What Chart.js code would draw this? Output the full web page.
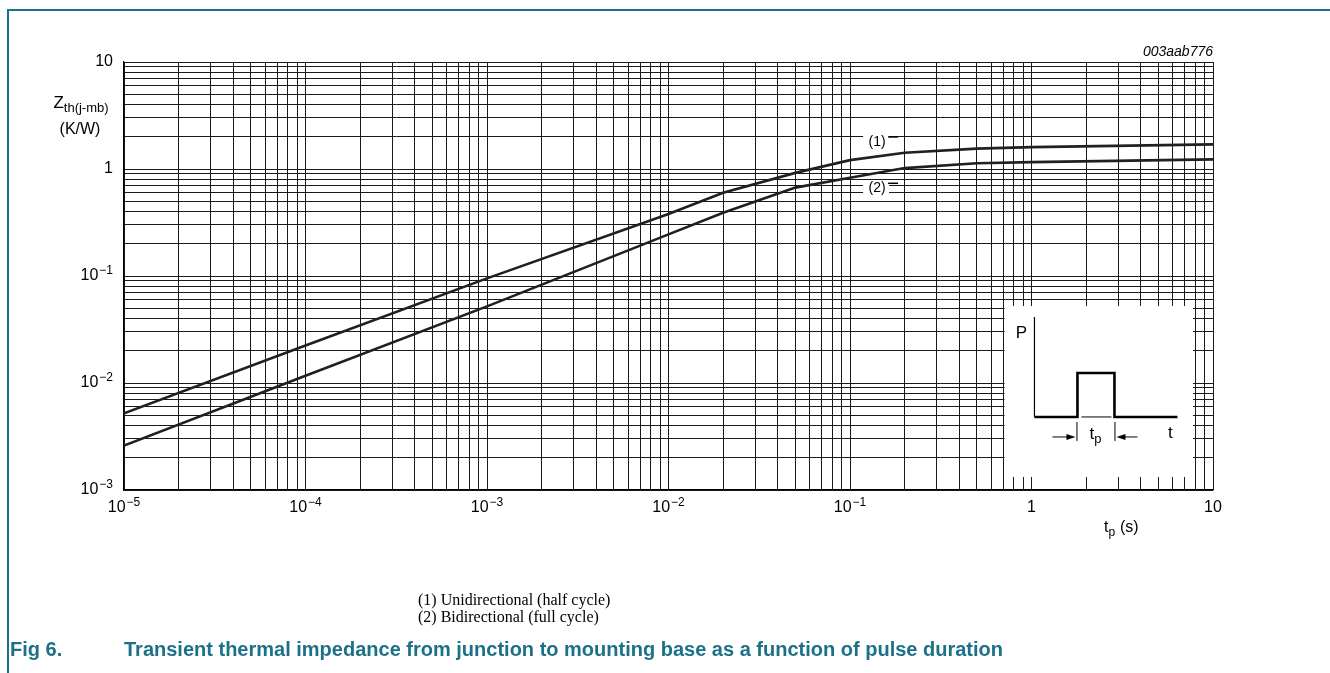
<!DOCTYPE html>
<html>
<head>
<meta charset="utf-8">
<script src="https://cdn.jsdelivr.net/npm/chart.js@4.4.0/dist/chart.umd.min.js"></script>
<style>
  html, body { margin: 0; padding: 0; background: #fff; }
  #page { position: relative; width: 1330px; height: 673px; overflow: hidden; }
  #frame { position: absolute; left: 7px; top: 9px; right: -4px; bottom: -4px;
           border-left: 2px solid #1c7188; border-top: 2px solid #1c7188; }
  canvas { position: absolute; left: 0; top: 0; }
  .note { position: absolute; left: 418px; font: 16px "Liberation Serif", "DejaVu Serif", serif; color: #000; }
  .fig { position: absolute; top: 638px; font: bold 20px "Liberation Sans", Arial, sans-serif; color: #1c7188; white-space: nowrap; }
</style>
</head>
<body>
<div id="page">
  <div id="frame"></div>
  <canvas id="zthChart" width="1330" height="673"></canvas>
  <div class="note" style="top:591px">(1) Unidirectional (half cycle)</div>
  <div class="note" style="top:608px">(2) Bidirectional (full cycle)</div>
  <div class="fig" style="left:10px">Fig 6.</div>
  <div class="fig" style="left:124px">Transient thermal impedance from junction to mounting base as a function of pulse duration</div>
</div>
<script>
// pulse duration tp (s) and Zth(j-mb) (K/W)
const pulseDuration = [1e-5, 1e-4, 1e-3, 1e-2, 2e-2, 5e-2, 0.1, 0.2, 0.5, 1, 10];
const zthUnidirectional = [0.0052, 0.0224, 0.095, 0.38, 0.6, 0.92, 1.21, 1.42, 1.55, 1.6, 1.7];
const zthBidirectional = [0.0026, 0.0117, 0.052, 0.245, 0.39, 0.67, 0.83, 1.02, 1.13, 1.16, 1.23];

// decades and their labels (base, exponent)
const xDecades = [1e-5, 1e-4, 1e-3, 1e-2, 1e-1, 1, 10];
const xDecadeLabels = [['10', '−5'], ['10', '−4'], ['10', '−3'], ['10', '−2'], ['10', '−1'], ['1', ''], ['10', '']];
const yDecades = [1e-3, 1e-2, 1e-1, 1, 10];
const yDecadeLabels = [['10', '−3'], ['10', '−2'], ['10', '−1'], ['1', ''], ['10', '']];
const minorSteps = [1, 2, 3, 4, 5, 6, 7, 8, 9];

function gridValues(decades) {
  const last = decades[decades.length - 1];
  return decades.flatMap(d => d < last ? minorSteps.map(s => s * d) : [d]);
}

const SANS = '"Liberation Sans", Arial, Helvetica, sans-serif';

// draws base + raised exponent; align: 'center' or 'right'
function powerLabel(ctx, base, exp, x, y, align) {
  ctx.font = '16px ' + SANS;
  const w1 = ctx.measureText(base).width;
  ctx.font = '12px ' + SANS;
  const w2 = exp ? ctx.measureText(exp).width + 1 : 0;
  const x0 = align === 'right' ? x - w1 - w2 : x - (w1 + w2) / 2;
  ctx.textAlign = 'left';
  ctx.textBaseline = 'middle';
  ctx.font = '16px ' + SANS;
  ctx.fillText(base, x0, y);
  if (exp) {
    ctx.font = '12px ' + SANS;
    ctx.fillText(exp, x0 + w1 + 1, y - 5);
  }
}

function textSub(ctx, main, sub, x, y, size, align) {
  const subSize = Math.round(size * 0.75);
  ctx.font = size + 'px ' + SANS;
  const w1 = ctx.measureText(main).width;
  ctx.font = subSize + 'px ' + SANS;
  const w2 = ctx.measureText(sub).width;
  let x0 = x;
  if (align === 'center') x0 = x - (w1 + w2) / 2;
  if (align === 'right') x0 = x - (w1 + w2);
  ctx.textAlign = 'left';
  ctx.textBaseline = 'middle';
  ctx.font = size + 'px ' + SANS;
  ctx.fillText(main, x0, y);
  ctx.font = subSize + 'px ' + SANS;
  ctx.fillText(sub, x0 + w1, y + size * 0.3);
}

const decorations = {
  id: 'decorations',
  afterDraw(chart) {
    const ctx = chart.ctx;
    const ca = chart.chartArea;
    const xs = chart.scales.x, ys = chart.scales.y;
    ctx.save();
    ctx.fillStyle = '#000';

    // tick labels at the decades
    xDecades.forEach((v, i) => {
      powerLabel(ctx, xDecadeLabels[i][0], xDecadeLabels[i][1], xs.getPixelForValue(v), ca.bottom + 18, 'center');
    });
    yDecades.forEach((v, i) => {
      powerLabel(ctx, yDecadeLabels[i][0], yDecadeLabels[i][1], ca.left - 11, ys.getPixelForValue(v), 'right');
    });

    // axis titles
    textSub(ctx, 'Z', 'th(j-mb)', 81, 103, 17, 'center');
    ctx.font = '16px ' + SANS;
    ctx.textAlign = 'center';
    ctx.textBaseline = 'middle';
    ctx.fillText('(K/W)', 80, 130);
    textSub(ctx, 't', 'p', 1104, 528, 16, 'left');
    ctx.font = '16px ' + SANS;
    ctx.textAlign = 'left';
    ctx.fillText('(s)', 1120, 528);

    ctx.font = 'italic 14px ' + SANS;
    ctx.textAlign = 'right';
    ctx.fillText('003aab776', ca.right, 52);

    // curve labels
    [['(1)', 0.141, 1.79], ['(2)', 0.141, 0.66]].forEach(([t, xv, yv]) => {
      const px = xs.getPixelForValue(xv), py = ys.getPixelForValue(yv);
      ctx.fillStyle = '#fff';
      ctx.fillRect(px - 14, py - 8, 26, 16);
      ctx.fillStyle = '#000';
      ctx.font = '14px ' + SANS;
      ctx.textAlign = 'center';
      ctx.fillText(t, px, py);
      ctx.strokeStyle = '#000';
      ctx.lineWidth = 1.5;
      ctx.beginPath();
      ctx.moveTo(px + 11, py - 5);
      ctx.lineTo(px + 21, py - 5);
      ctx.stroke();
    });

    // pulse inset
    const w = ca.right - ca.left, h = ca.bottom - ca.top;
    const L = ca.left + 0.8085 * w, R = ca.left + 0.9816 * w;
    const T = ca.top + 0.570 * h, B = ca.top + 0.9696 * h;
    ctx.fillStyle = '#fff';
    ctx.fillRect(L, T, R - L, B - T);
    ctx.strokeStyle = '#000';
    ctx.lineWidth = 1.2;
    ctx.beginPath();
    ctx.moveTo(L + 30, T + 11); ctx.lineTo(L + 30, T + 111);
    ctx.stroke();
    ctx.lineWidth = 2.6;
    ctx.beginPath();
    ctx.moveTo(L + 30, T + 111); ctx.lineTo(L + 73, T + 111);
    ctx.lineTo(L + 73, T + 67); ctx.lineTo(L + 110, T + 67);
    ctx.lineTo(L + 110, T + 111); ctx.lineTo(L + 173, T + 111);
    ctx.stroke();
    ctx.lineWidth = 1;
    ctx.beginPath();
    ctx.moveTo(L + 77, T + 111); ctx.lineTo(L + 107, T + 111);
    ctx.moveTo(L + 72.5, T + 116); ctx.lineTo(L + 72.5, T + 135);
    ctx.moveTo(L + 110.5, T + 116); ctx.lineTo(L + 110.5, T + 135);
    ctx.moveTo(L + 48, T + 131); ctx.lineTo(L + 66, T + 131);
    ctx.moveTo(L + 133, T + 131); ctx.lineTo(L + 117, T + 131);
    ctx.stroke();
    ctx.fillStyle = '#000';
    ctx.beginPath();
    ctx.moveTo(L + 71, T + 131); ctx.lineTo(L + 62, T + 128); ctx.lineTo(L + 62, T + 134); ctx.closePath();
    ctx.moveTo(L + 112, T + 131); ctx.lineTo(L + 121, T + 128); ctx.lineTo(L + 121, T + 134); ctx.closePath();
    ctx.fill();
    ctx.font = '17px ' + SANS;
    ctx.textAlign = 'center';
    ctx.textBaseline = 'middle';
    ctx.fillText('P', L + 17, T + 27);
    ctx.fillText('t', L + 166, T + 127);
    textSub(ctx, 't', 'p', L + 91, T + 128, 17, 'center');
    ctx.restore();
  }
};

const ctx = document.getElementById('zthChart').getContext('2d');
const zthChart = new Chart(ctx, {
  type: 'line',
  data: {
    datasets: [
      {
        label: '(1) Unidirectional (half cycle)',
        data: pulseDuration.map((x, i) => ({ x: x, y: zthUnidirectional[i] })),
        borderColor: '#231f20',
        borderWidth: 2.6,
        pointRadius: 0,
        tension: 0,
      },
      {
        label: '(2) Bidirectional (full cycle)',
        data: pulseDuration.map((x, i) => ({ x: x, y: zthBidirectional[i] })),
        borderColor: '#231f20',
        borderWidth: 2.6,
        pointRadius: 0,
        tension: 0,
      },
    ],
  },
  options: {
    responsive: false,
    animation: false,
    devicePixelRatio: 1,
    layout: { padding: { left: 0, right: 117, top: 62, bottom: 143 } },
    plugins: { legend: { display: false }, tooltip: { enabled: false } },
    scales: {
      x: {
        type: 'logarithmic',
        min: 1e-5,
        max: 10,
        afterBuildTicks: s => { s.ticks = gridValues(xDecades).map(v => ({ value: v })); },
        afterFit: s => { s.height = 40; },
        ticks: { autoSkip: false, maxRotation: 0, callback: () => '' },
        grid: { color: '#1a1a1a', lineWidth: 1, drawTicks: false },
        border: { color: '#000', width: 1.2 },
      },
      y: {
        type: 'logarithmic',
        min: 1e-3,
        max: 10,
        afterBuildTicks: s => { s.ticks = gridValues(yDecades).map(v => ({ value: v })); },
        afterFit: s => { s.width = 124; },
        ticks: { autoSkip: false, callback: () => '' },
        grid: { color: '#1a1a1a', lineWidth: 1, drawTicks: false },
        border: { color: '#000', width: 1.2 },
      },
    },
  },
  plugins: [decorations],
});
</script>
</body>
</html>
